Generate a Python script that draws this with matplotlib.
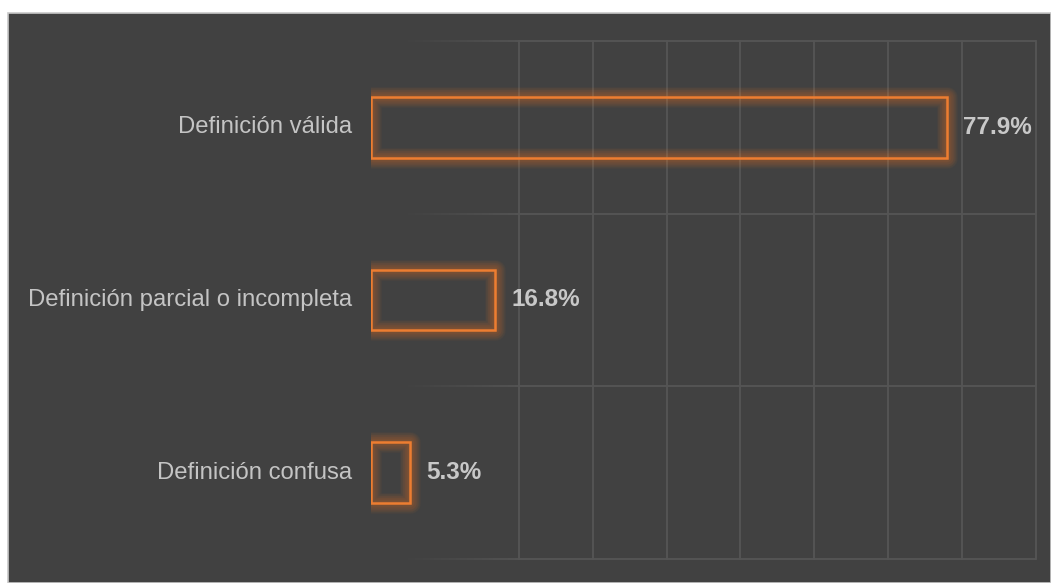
import numpy as np
import matplotlib
matplotlib.use("Agg")
from matplotlib import pyplot as plt
from matplotlib.collections import LineCollection
from matplotlib.patches import Rectangle

plt.rcParams['font.family'] = ['Liberation Sans', 'DejaVu Sans']

# categories and shares (%)
categories = ['Definición válida', 'Definición parcial o incompleta', 'Definición confusa']
shares = [77.9, 16.8, 5.3]
value_labels = ['77.9%', '16.8%', '5.3%']

bg = '#414141'
orange = '#ED7D31'
grid_rgb = (0x55 / 255, 0x55 / 255, 0x55 / 255)
text_col = '#c4c4c4'

fig = plt.figure(figsize=(10.51, 5.83), dpi=100)
fig.patch.set_facecolor('white')

# dark panel with a thin light border on top/left
panel = Rectangle((8 / 1051, 0), 1 - 8 / 1051, 1 - 13 / 583, transform=fig.transFigure,
                  facecolor=bg, edgecolor='#c8c8c8', linewidth=1.2, zorder=-10)
fig.patches.append(panel)

ax = fig.add_axes([371 / 1051, 1 - 559 / 583, (1036 - 371) / 1051, (559 - 41) / 583])
ax.set_zorder(5)
ax.set_facecolor('none')
for s in ax.spines.values():
    s.set_visible(False)

ypos = np.arange(len(categories))
ax.set_xlim(0, 90)
ax.set_ylim(len(categories) - 0.5, -0.5)
ax.set_xticks([])
ax.set_yticks([])

# vertical grid lines
for gx in range(20, 100, 10):
    ax.plot([gx, gx], [-0.5, len(categories) - 0.5], color=grid_rgb, lw=1.3, zorder=1, clip_on=False)

# horizontal grid lines fading in from the left
xs = np.linspace(0, 90, 181)
for gy in np.arange(-0.5, len(categories), 1.0):
    segs = [[(xs[i], gy), (xs[i + 1], gy)] for i in range(len(xs) - 1)]
    alphas = np.clip((xs[:-1] - 4) / 16, 0, 1)
    cols = [grid_rgb + (a,) for a in alphas]
    lc = LineCollection(segs, colors=cols, linewidths=1.3, zorder=1, clip_on=False)
    ax.add_collection(lc)

# bars drawn as glowing outlines
h = 0.35
for y, v in zip(ypos, shares):
    for lw in np.arange(15, 1, -1.0):
        ax.barh(y, v, height=h, left=0, fill=False, edgecolor=orange,
                linewidth=lw, alpha=0.035, zorder=2, joinstyle='round')
    ax.barh(y, v, height=h, left=0, fill=False, edgecolor=orange,
            linewidth=1.8, zorder=3, joinstyle='miter')

# value labels
for y, v, lab in zip(ypos, shares, value_labels):
    ax.annotate(lab, (v, y), xytext=(16, 0), textcoords='offset pixels',
                ha='left', va='center', fontsize=17.5, fontweight='bold',
                color='#c8c8c8', annotation_clip=False)

# category labels
for y, c in zip(ypos, categories):
    ax.annotate(c, (0, y), xytext=(-19, 0), textcoords='offset pixels',
                ha='right', va='center', fontsize=17.2, color=text_col,
                annotation_clip=False)

fig.savefig('out.png', dpi=100, facecolor=fig.get_facecolor())
